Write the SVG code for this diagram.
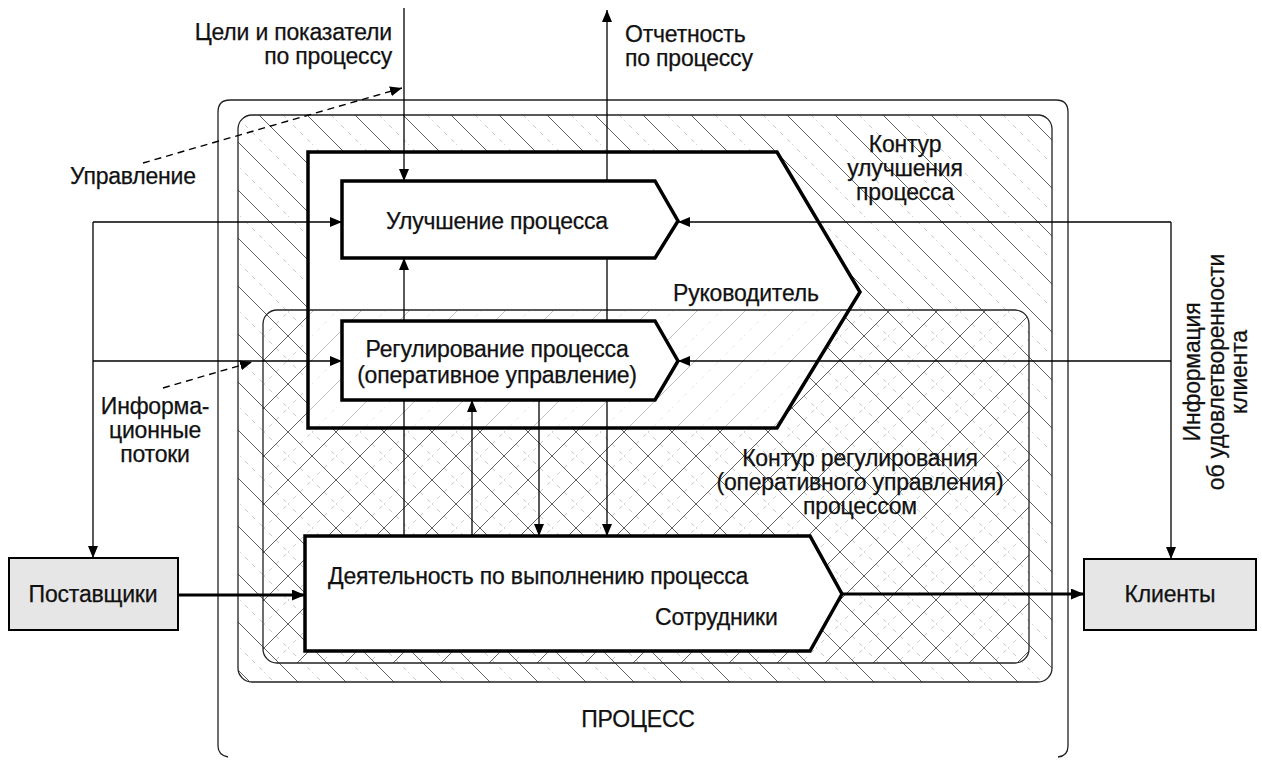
<svg xmlns="http://www.w3.org/2000/svg" width="1262" height="761" viewBox="0 0 1262 761">
  <style>
    text { font-family: "Liberation Sans", Arial, sans-serif; font-size: 23px; letter-spacing: -0.2px; fill: #111; stroke: #111; stroke-width: 0.25; }
    .mid { text-anchor: middle; }
    .end { text-anchor: end; }
    .frame { fill: none; stroke: #222; stroke-width: 1.3; }
    .box { fill: #fff; stroke: #000; stroke-width: 3.5; stroke-linejoin: miter; }
    .ext { fill: #e6e6e6; stroke: #000; stroke-width: 2; }
    .link { fill: none; stroke: #000; stroke-width: 1.3; }
    .flow { fill: none; stroke: #000; stroke-width: 3; }
    .note { fill: none; stroke: #000; stroke-width: 1.4; stroke-dasharray: 7 5; }
  </style>
  <defs>
    <!-- back-slash hatch of the improvement loop -->
    <pattern id="hatchBack" patternUnits="userSpaceOnUse" width="48" height="48">
      <path d="M-2,-2 L50,50" stroke="#444" stroke-width="0.85"/>
      <path d="M22,-2 L50,26 M-2,22 L26,50" stroke="#b8b8b8" stroke-width="0.8" stroke-dasharray="4 6"/>
    </pattern>
    <!-- forward-slash hatch of the regulation loop -->
    <pattern id="hatchFwd" patternUnits="userSpaceOnUse" width="48" height="48">
      <path d="M-2,50 L50,-2" stroke="#444" stroke-width="0.85"/>
      <path d="M-2,26 L26,-2 M22,50 L50,22" stroke="#b8b8b8" stroke-width="0.8" stroke-dasharray="4 6"/>
    </pattern>
    <marker id="arrow" viewBox="0 0 12 10" refX="12" refY="5" markerWidth="12" markerHeight="10" markerUnits="userSpaceOnUse" orient="auto">
      <path d="M0,0 L12,5 L0,10 Z" fill="#000"/>
    </marker>
    <marker id="arrowBig" viewBox="0 0 13 11" refX="13" refY="5.5" markerWidth="13" markerHeight="11" markerUnits="userSpaceOnUse" orient="auto">
      <path d="M0,0 L13,5.5 L0,11 Z" fill="#000"/>
    </marker>
  </defs>

  <rect width="1262" height="761" fill="#fff"/>

  <!-- ПРОЦЕСС: outer frame -->
  <g id="process">
    <path class="frame" d="M218,746 V112 Q218,100 230,100 H1056 Q1068,100 1068,112 V746 Q1068,756 1058,757 M218,746 Q218,755 228,757"/>
    <text class="mid" x="638" y="727">ПРОЦЕСС</text>
  </g>

  <!-- improvement loop (hatched band) -->
  <g id="improvement-loop">
    <rect x="238" y="115" width="814" height="567" rx="14" fill="url(#hatchBack)"/>
    <rect x="238" y="115" width="814" height="567" rx="14" class="frame"/>
  </g>

  <!-- white body of the manager chevron hides the back-slash hatch -->
  <polygon points="308,152 777,152 860,292 777,428 308,428" fill="#fff"/>

  <!-- regulation loop (cross-hatched) -->
  <g id="regulation-loop">
    <rect x="263" y="310" width="766" height="353" rx="14" fill="url(#hatchFwd)"/>
    <polygon points="308,310 849,310 777,428 308,428" fill="#fff" fill-opacity="0.6"/>
    <rect x="263" y="310" width="766" height="353" rx="14" class="frame"/>
    <text class="mid" x="860" y="466">Контур регулирования</text>
    <text class="mid" x="860" y="490">(оперативного управления)</text>
    <text class="mid" x="860" y="514">процессом</text>
  </g>

  <g id="improvement-label">
    <text class="mid" x="905" y="152">Контур</text>
    <text class="mid" x="905" y="176">улучшения</text>
    <text class="mid" x="905" y="200">процесса</text>
  </g>

  <!-- manager chevron -->
  <g id="manager">
    <polygon points="308,152 777,152 860,292 777,428 308,428" fill="none" stroke="#000" stroke-width="3.5"/>
    <text x="673" y="301">Руководитель</text>
  </g>

  <!-- connectors -->
  <g id="connectors">
    <path class="link" d="M404,8 V181" marker-end="url(#arrow)"/>
    <path class="link" d="M607,181 V10" marker-end="url(#arrow)"/>
    <path class="link" d="M93,222 H342" marker-end="url(#arrow)"/>
    <path class="link" d="M93,222 V558" marker-end="url(#arrow)"/>
    <path class="link" d="M93,361 H342" marker-end="url(#arrow)"/>
    <path class="link" d="M1171,222 H678" marker-end="url(#arrow)"/>
    <path class="link" d="M1171,361 H678" marker-end="url(#arrow)"/>
    <path class="link" d="M1171,222 V559" marker-end="url(#arrow)"/>
    <path class="link" d="M404,321 V258" marker-end="url(#arrow)"/>
    <path class="link" d="M404,536 V400"/>
    <path class="link" d="M607,258 V321"/>
    <path class="link" d="M607,400 V536" marker-end="url(#arrow)"/>
    <path class="link" d="M472,536 V400" marker-end="url(#arrow)"/>
    <path class="link" d="M539,400 V536" marker-end="url(#arrow)"/>
    <path class="flow" d="M178,595 H305" marker-end="url(#arrowBig)"/>
    <path class="flow" d="M842,594 H1084" marker-end="url(#arrowBig)"/>
    <path class="note" d="M143,163 L402,88" marker-end="url(#arrow)"/>
    <path class="note" d="M163,388 L252,362" marker-end="url(#arrow)"/>
  </g>

  <g id="improve">
    <polygon class="box" points="342,181 655,181 678,221 655,258 342,258"/>
    <text class="mid" x="497" y="229">Улучшение процесса</text>
  </g>

  <g id="regulate">
    <polygon class="box" points="342,321 655,321 678,361 655,400 342,400"/>
    <text class="mid" x="497" y="357">Регулирование процесса</text>
    <text class="mid" x="497" y="383">(оперативное управление)</text>
  </g>

  <g id="execute">
    <polygon class="box" points="305,536 810,536 842,594 810,651 305,651"/>
    <text x="328" y="584">Деятельность по выполнению процесса</text>
    <text x="655" y="625">Сотрудники</text>
  </g>

  <g id="suppliers">
    <rect class="ext" x="9" y="558" width="169" height="72"/>
    <text class="mid" x="93" y="602">Поставщики</text>
  </g>

  <g id="clients">
    <rect class="ext" x="1084" y="559" width="172" height="71"/>
    <text class="mid" x="1170" y="602">Клиенты</text>
  </g>

  <!-- free labels -->
  <g id="labels">
    <text class="end" x="392" y="40">Цели и показатели</text>
    <text class="end" x="392" y="64">по процессу</text>
    <text x="625" y="42">Отчетность</text>
    <text x="625" y="66">по процессу</text>
    <text x="70" y="184">Управление</text>
    <text class="mid" x="155" y="414">Информа-</text>
    <text class="mid" x="155" y="438">ционные</text>
    <text class="mid" x="155" y="462">потоки</text>
    <text class="mid" transform="translate(1200,372) rotate(-90)">Информация</text>
    <text class="mid" transform="translate(1224,372) rotate(-90)">об удовлетворенности</text>
    <text class="mid" transform="translate(1247,372) rotate(-90)">клиента</text>
  </g>
</svg>
